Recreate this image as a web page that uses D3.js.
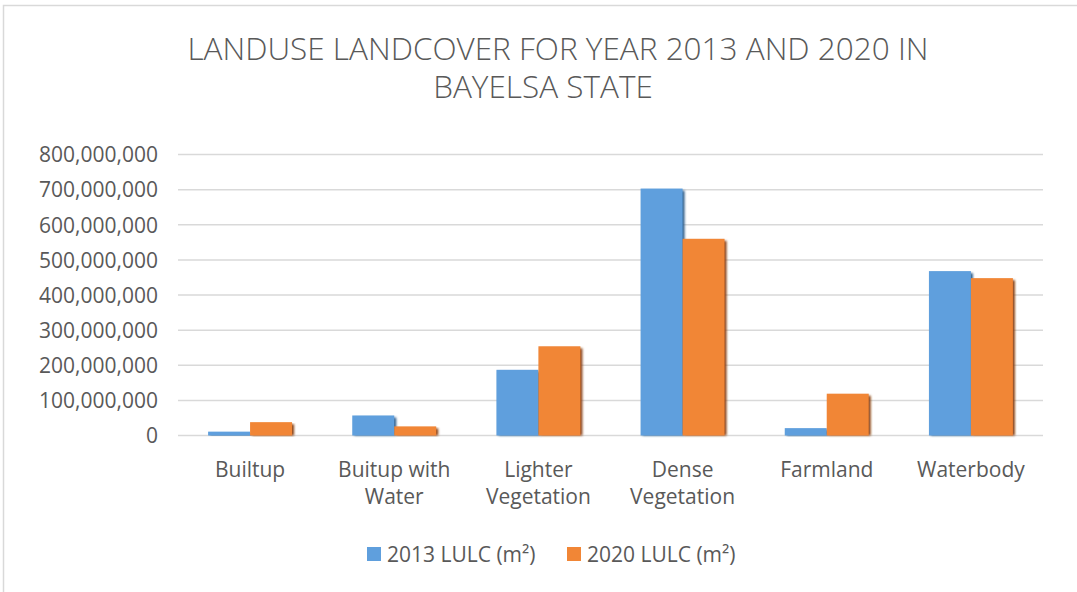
<html>
  <head>
    <meta charset="utf-8" />
    <script src="https://d3js.org/d3.v7.min.js"></script>
    <style>
      body {
        margin: 0;
        background: #fff;
      }
      text {
        font-family: "Open Sans", sans-serif;
        fill: #595959;
      }
    </style>
  </head>
  <body>
    <svg id="chart" width="1077" height="592"></svg>
    <script>
      // data
      var categories = [
        ["Builtup"],
        ["Buitup with", "Water"],
        ["Lighter", "Vegetation"],
        ["Dense", "Vegetation"],
        ["Farmland"],
        ["Waterbody"],
      ];
      var seriesNames = ["2013 LULC (m²)", "2020 LULC (m²)"];
      var values2013 = [11000000, 57000000, 187000000, 703000000, 21000000, 468000000];
      var values2020 = [38000000, 26000000, 254000000, 560000000, 119000000, 448000000];
      var yTicks = [0, 100000000, 200000000, 300000000, 400000000, 500000000, 600000000, 700000000, 800000000];
      var colors = ["#5f9fdd", "#f18636"];
      var shadows = ["#2f5f8c", "#8a4313"];

      var svg = d3.select("#chart");

      // chart frame
      svg.append("rect")
        .attr("x", 3.5).attr("y", 5.5)
        .attr("width", 1130).attr("height", 620)
        .attr("fill", "none")
        .attr("stroke", "#d9d9d9")
        .attr("stroke-width", 1.5);

      var defs = svg.append("defs");
      defs.append("filter").attr("id", "blur")
        .append("feGaussianBlur").attr("stdDeviation", 0.8);

      // title
      var title = svg.append("text")
        .attr("text-anchor", "middle")
        .style("font-size", "31.5px")
        .style("font-weight", 300);
      title.append("tspan").attr("x", 558).attr("y", 60).text("LANDUSE LANDCOVER FOR YEAR 2013 AND 2020 IN");
      title.append("tspan").attr("x", 543).attr("y", 98).text("BAYELSA STATE");

      var keys = categories.map((d) => d.join(" "));

      var x = d3.scaleBand().domain(keys).range([178, 1043]).padding(0);
      var x1 = d3.scaleBand().domain([0, 1]).range([0, x.bandwidth()])
        .paddingInner(0).paddingOuter(0.717);
      var y = d3.scaleLinear().domain([0, 800000000]).range([435.5, 154.5]);

      // gridlines
      svg.append("g")
        .selectAll("line")
        .data(yTicks)
        .enter()
        .append("line")
        .attr("x1", 178).attr("x2", 1043)
        .attr("y1", (d) => y(d)).attr("y2", (d) => y(d))
        .attr("stroke", "#d9d9d9")
        .attr("stroke-width", 1.5);

      // y axis labels
      var yAxis = d3.axisLeft(y).tickValues(yTicks).tickSize(0).tickPadding(0)
        .tickFormat(d3.format(","));
      svg.append("g")
        .attr("transform", "translate(158,0)")
        .call(yAxis)
        .call((g) => g.select(".domain").remove())
        .call((g) => g.selectAll("text")
          .attr("dy", "0.35em")
          .style("font-size", "21px")
          .style("font-family", "'Open Sans', sans-serif")
          .attr("fill", "#595959"));

      var rows = keys.map((k, i) => [values2013[i], values2020[i]]);

      var groups = svg.append("g")
        .selectAll("g")
        .data(rows)
        .enter()
        .append("g")
        .attr("transform", (d, i) => "translate(" + x(keys[i]) + ",0)");

      // soft shadow to the right of each bar
      groups.selectAll("rect.shadow")
        .data((d) => d)
        .enter()
        .append("rect")
        .attr("class", "shadow")
        .attr("x", (d, j) => x1(j) + 2)
        .attr("y", (d) => y(d) + 2)
        .attr("width", x1.bandwidth())
        .attr("height", (d) => y(0) - y(d) - 2)
        .attr("fill", (d, j) => shadows[j])
        .attr("filter", "url(#blur)");

      groups.selectAll("rect.bar")
        .data((d) => d)
        .enter()
        .append("rect")
        .attr("class", "bar")
        .attr("x", (d, j) => x1(j))
        .attr("y", (d) => y(d))
        .attr("width", x1.bandwidth())
        .attr("height", (d) => y(0) - y(d))
        .attr("fill", (d, j) => colors[j]);

      // category labels
      var xl = svg.append("g")
        .selectAll("text")
        .data(categories)
        .enter()
        .append("text")
        .attr("text-anchor", "middle")
        .style("font-size", "21px");
      xl.each(function (lines, i) {
        var t = d3.select(this);
        lines.forEach((ln, k) => {
          t.append("tspan")
            .attr("x", x(keys[i]) + x.bandwidth() / 2)
            .attr("y", 477 + k * 27)
            .text(ln);
        });
      });

      // legend
      var legendX = [367, 567];
      var legend = svg.append("g")
        .selectAll("g")
        .data(seriesNames)
        .enter()
        .append("g")
        .attr("transform", (d, i) => "translate(" + legendX[i] + ",547)");
      legend.append("rect")
        .attr("width", 14).attr("height", 14)
        .attr("fill", (d, i) => colors[i]);
      legend.append("text")
        .attr("x", 20).attr("y", 15)
        .style("font-size", "21px")
        .text((d) => d);
    </script>
  </body>
</html>
